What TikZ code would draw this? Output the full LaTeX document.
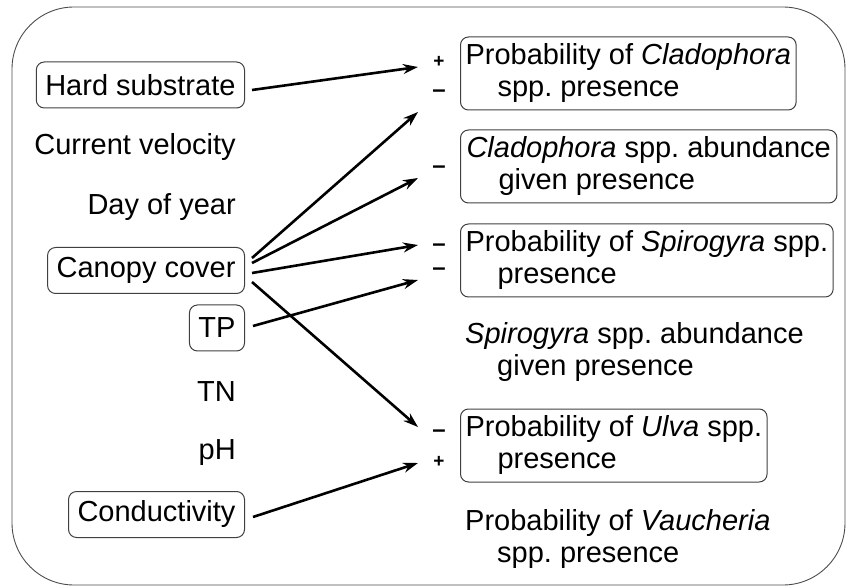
\documentclass[tikz,border=0pt]{standalone}
\usepackage{fontspec}
\setmainfont{Liberation Sans}
\usetikzlibrary{arrows.meta}
\frenchspacing
\begin{document}
\begin{tikzpicture}[x=1pt,y=-1pt,
  every node/.style={font=\fontsize{29}{32}\selectfont},
  lbox/.style={draw=black!75,line width=1pt,rounded corners=8pt,anchor=east,inner xsep=9pt,minimum height=46pt},
  ltxt/.style={anchor=east,inner xsep=9pt},
  rbox/.style={draw=black!75,line width=1pt,rounded corners=8pt,anchor=west,align=left,inner xsep=5pt,inner ysep=6pt,minimum height=73pt},
  rtxt/.style={anchor=west,align=left,inner xsep=5pt},
  sgn/.style={inner sep=0pt,font=\fontsize{24}{24}\selectfont\bfseries},
  conn/.style={line width=2.6pt,-{Stealth[length=15pt,width=10pt]}}]
\useasboundingbox (0,0) rectangle (847,588);
\draw[black!70,line width=0.9pt,rounded corners=62pt] (12,7) rectangle (845,585);
% left
\node[lbox] (hs) at (245,85) {Hard substrate};
\node[ltxt] (cv) at (245,147) {Current velocity};
\node[ltxt] (dy) at (245,207) {Day of year};
\node[lbox] (cc) at (245,270.5) {Canopy cover};
\node[lbox] (tp) at (245,328) {TP};
\node[ltxt] (tn) at (245,392) {TN};
\node[ltxt] (ph) at (245,453) {pH};
\node[lbox] (co) at (245,514.5) {Conductivity};
% right
\newcommand{\ind}{\hspace*{32pt}}
\node[rbox] (p1) at (460,73.5) {Probability of \textit{Cladophora}\\\ind spp. presence};
\node[rbox,inner xsep=6pt] (p2) at (460,166.5) {\textit{Cladophora} spp. abundance\\\ind given presence};
\node[rbox] (p3) at (460,260.5) {Probability of \textit{Spirogyra} spp.\\\ind presence};
\node[rtxt] (p4) at (460,352) {\textit{Spirogyra} spp. abundance\\\ind given presence};
\node[rbox] (p5) at (460,445.5) {Probability of \textit{Ulva} spp.\\\ind presence};
\node[rtxt] (p6) at (460,539) {Probability of \textit{Vaucheria}\\\ind spp. presence};
% signs
\node[sgn,font=\fontsize{19}{19}\selectfont\bfseries] (s1) at (439,62) {+};
\node[sgn] (s2) at (439,94) {–};
\node[sgn] (s3) at (439,170) {–};
\node[sgn] (s4) at (439,248) {–};
\node[sgn] (s5) at (439,272) {–};
\node[sgn] (s6) at (439,434) {–};
\node[sgn,font=\fontsize{19}{19}\selectfont\bfseries] (s7) at (439,462) {+};
% arrow tips
\coordinate (t1) at (418,67);
\coordinate (t2) at (418,112);
\coordinate (t3) at (418,178);
\coordinate (t4) at (418,245);
\coordinate (t5) at (418,280);
\coordinate (t6) at (418,427);
\coordinate (t7) at (418,463);
\draw[conn] ([shift={(7,5)}]hs.east) -- (t1);
\draw[conn] ([shift={(7,-12.5)}]cc.east) -- (t2);
\draw[conn] ([shift={(7,-7.5)}]cc.east) -- (t3);
\draw[conn] ([shift={(7,2.5)}]cc.east) -- (t4);
\draw[conn] ([shift={(8,-2)}]tp.east) -- (t5);
\draw[conn] ([shift={(7,11.5)}]cc.east) -- (t6);
\draw[conn] ([shift={(8,2.5)}]co.east) -- (t7);
\end{tikzpicture}
\end{document}
